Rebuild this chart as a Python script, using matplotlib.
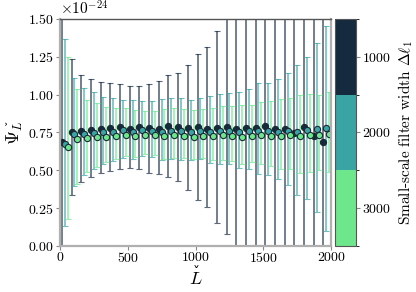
import numpy as np
import matplotlib
matplotlib.use("Agg")
import matplotlib.pyplot as plt
from matplotlib.colors import ListedColormap, BoundaryNorm
from matplotlib.cm import ScalarMappable

plt.rcParams['font.family'] = 'serif'
plt.rcParams['font.serif'] = ['cmr10', 'DejaVu Serif']
plt.rcParams['mathtext.fontset'] = 'cm'
plt.rcParams['axes.formatter.use_mathtext'] = True
plt.rcParams['font.size'] = 10

# filter widths (colorbar) and series colours
widths = [1000, 2000, 3000]
colors = ['#152a3f', '#3aa3a3', '#6ee68c']

# L bin centres (28 equal bins over 0..2000)
L = (np.arange(28) + 0.5) * 2000 / 28
shift = [-21, 0, 21]

# values in units of 1e-24
psi_1000 = [0.689, 0.755, 0.758, 0.767, 0.773, 0.778, 0.784, 0.773, 0.784, 0.780,
            0.773, 0.793, 0.784, 0.778, 0.784, 0.773, 0.778, 0.784, 0.773, 0.778,
            0.778, 0.793, 0.775, 0.771, 0.749, 0.789, 0.729, 0.685]
lo_1000 = [0.000, 0.333, 0.423, 0.454, 0.480, 0.498, 0.511, 0.518, 0.507, 0.485,
           0.474, 0.454, 0.430, 0.370, 0.304, 0.256, 0.154, 0.080, -0.05, -0.10,
           -0.15, -0.20, -0.25, -0.30, -0.35, -0.40, -0.45, -0.50]
hi_1000 = [1.600, 1.236, 1.130, 1.104, 1.082, 1.075, 1.069, 1.060, 1.060, 1.069,
           1.090, 1.130, 1.141, 1.196, 1.269, 1.317, 1.420, 1.520, 1.60, 1.65,
           1.70, 1.75, 1.80, 1.85, 1.90, 1.95, 2.00, 2.05]

psi_2000 = [0.672, 0.740, 0.740, 0.749, 0.750, 0.755, 0.763, 0.755, 0.763, 0.760,
            0.755, 0.760, 0.758, 0.752, 0.760, 0.755, 0.758, 0.760, 0.752, 0.758,
            0.760, 0.758, 0.755, 0.760, 0.752, 0.765, 0.770, 0.778]
lo_2000 = [0.132, 0.398, 0.468, 0.508, 0.543, 0.564, 0.581, 0.575, 0.596, 0.590,
           0.568, 0.574, 0.570, 0.567, 0.572, 0.549, 0.540, 0.541, 0.514, 0.506,
           0.475, 0.466, 0.440, 0.405, 0.338, 0.313, 0.227, 0.095]
hi_2000 = [1.369, 1.112, 1.042, 1.020, 0.987, 0.976, 0.965, 0.965, 0.960, 0.960,
           0.972, 0.976, 0.976, 0.967, 0.978, 0.991, 1.006, 1.009, 1.020, 1.040,
           1.075, 1.080, 1.100, 1.145, 1.196, 1.247, 1.340, 1.454]

psi_3000 = [0.652, 0.707, 0.712, 0.718, 0.722, 0.729, 0.736, 0.729, 0.736, 0.730,
            0.725, 0.730, 0.728, 0.722, 0.728, 0.725, 0.730, 0.728, 0.722, 0.728,
            0.730, 0.728, 0.725, 0.730, 0.725, 0.732, 0.735, 0.740]
lo_3000 = [0.178, 0.409, 0.489, 0.519, 0.557, 0.574, 0.592, 0.589, 0.610, 0.598,
           0.577, 0.578, 0.583, 0.574, 0.579, 0.566, 0.565, 0.561, 0.544, 0.554,
           0.540, 0.531, 0.510, 0.510, 0.480, 0.489, 0.500, 0.490]
hi_3000 = [1.247, 1.035, 0.965, 0.947, 0.917, 0.914, 0.910, 0.899, 0.892, 0.892,
           0.903, 0.912, 0.903, 0.900, 0.907, 0.914, 0.925, 0.925, 0.930, 0.932,
           0.950, 0.955, 0.970, 0.980, 1.000, 1.005, 1.000, 1.020]

series = [(psi_1000, lo_1000, hi_1000),
          (psi_2000, lo_2000, hi_2000),
          (psi_3000, lo_3000, hi_3000)]

scale = 1e-24

fig = plt.figure(figsize=(4.16, 2.92), dpi=100)
ax = fig.add_axes([0.144, 0.158, 0.652, 0.777])
cax = fig.add_axes([0.806, 0.158, 0.05, 0.777])

for (psi, lo, hi), c, dx in zip(series, colors, shift):
    psi = np.array(psi)
    yerr = [psi - np.array(lo), np.array(hi) - psi]
    ax.errorbar(L + dx, psi * scale, yerr=np.array(yerr) * scale, fmt='o',
                color=c, ecolor=c, elinewidth=1.2, capsize=2.2, capthick=1.2,
                markersize=4.5, markeredgecolor='#1a2a33', markeredgewidth=0.8,
                zorder=2)

# lighten the error bars a little
for coll in ax.collections:
    coll.set_alpha(0.7)
for ln in ax.lines:
    if ln.get_marker() == '_':
        ln.set_alpha(0.7)

ax.set_xlim(0, 2000)
ax.set_ylim(0, 1.5e-24)
ax.set_xticks([0, 500, 1000, 1500, 2000])
ax.set_yticks(np.array([0, 0.25, 0.5, 0.75, 1.0, 1.25, 1.5]) * scale)
ax.set_xlabel(r'$L$', fontsize=13, labelpad=4)
ax.set_ylabel(r'$\Psi_{L}$', fontsize=13, labelpad=2)
ax.yaxis.get_offset_text().set_fontsize(11)

for side in ['left', 'bottom', 'right']:
    ax.spines[side].set_color('#b0b0b0')
    ax.spines[side].set_linewidth(1.6)
ax.spines['top'].set_color('#555555')
ax.spines['top'].set_linewidth(1.0)
ax.tick_params(length=3, width=0.8, color='#888888', pad=1)

cmap = ListedColormap(colors)
norm = BoundaryNorm([500, 1500, 2500, 3500], cmap.N)
cb = fig.colorbar(ScalarMappable(norm=norm, cmap=cmap), cax=cax, ticks=widths)
cb.ax.invert_yaxis()
cb.set_label(r'Small-scale filter width $\Delta\ell_1$', fontsize=11)
cb.outline.set_edgecolor('#555555')
cb.ax.tick_params(length=3, width=0.8, color='#888888', pad=1)

# mathtext misplaces \check, so put the caron over the L by hand
fig.canvas.draw()
bx = ax.xaxis.label.get_window_extent()
fig.text((bx.x0 + bx.x1) / 2 + 1.0, bx.y1 - 6.0, '\u02c7', transform=None,
         family=['DejaVu Serif'], fontsize=10, ha='center', va='baseline')
by = ax.yaxis.label.get_window_extent()
fig.text(by.x0 + 0.5, by.y1 - 2.5, '\u02c7', transform=None,
         family=['DejaVu Serif'], fontsize=8, rotation=90,
         ha='left', va='center')

fig.savefig('out.png', dpi=100)
